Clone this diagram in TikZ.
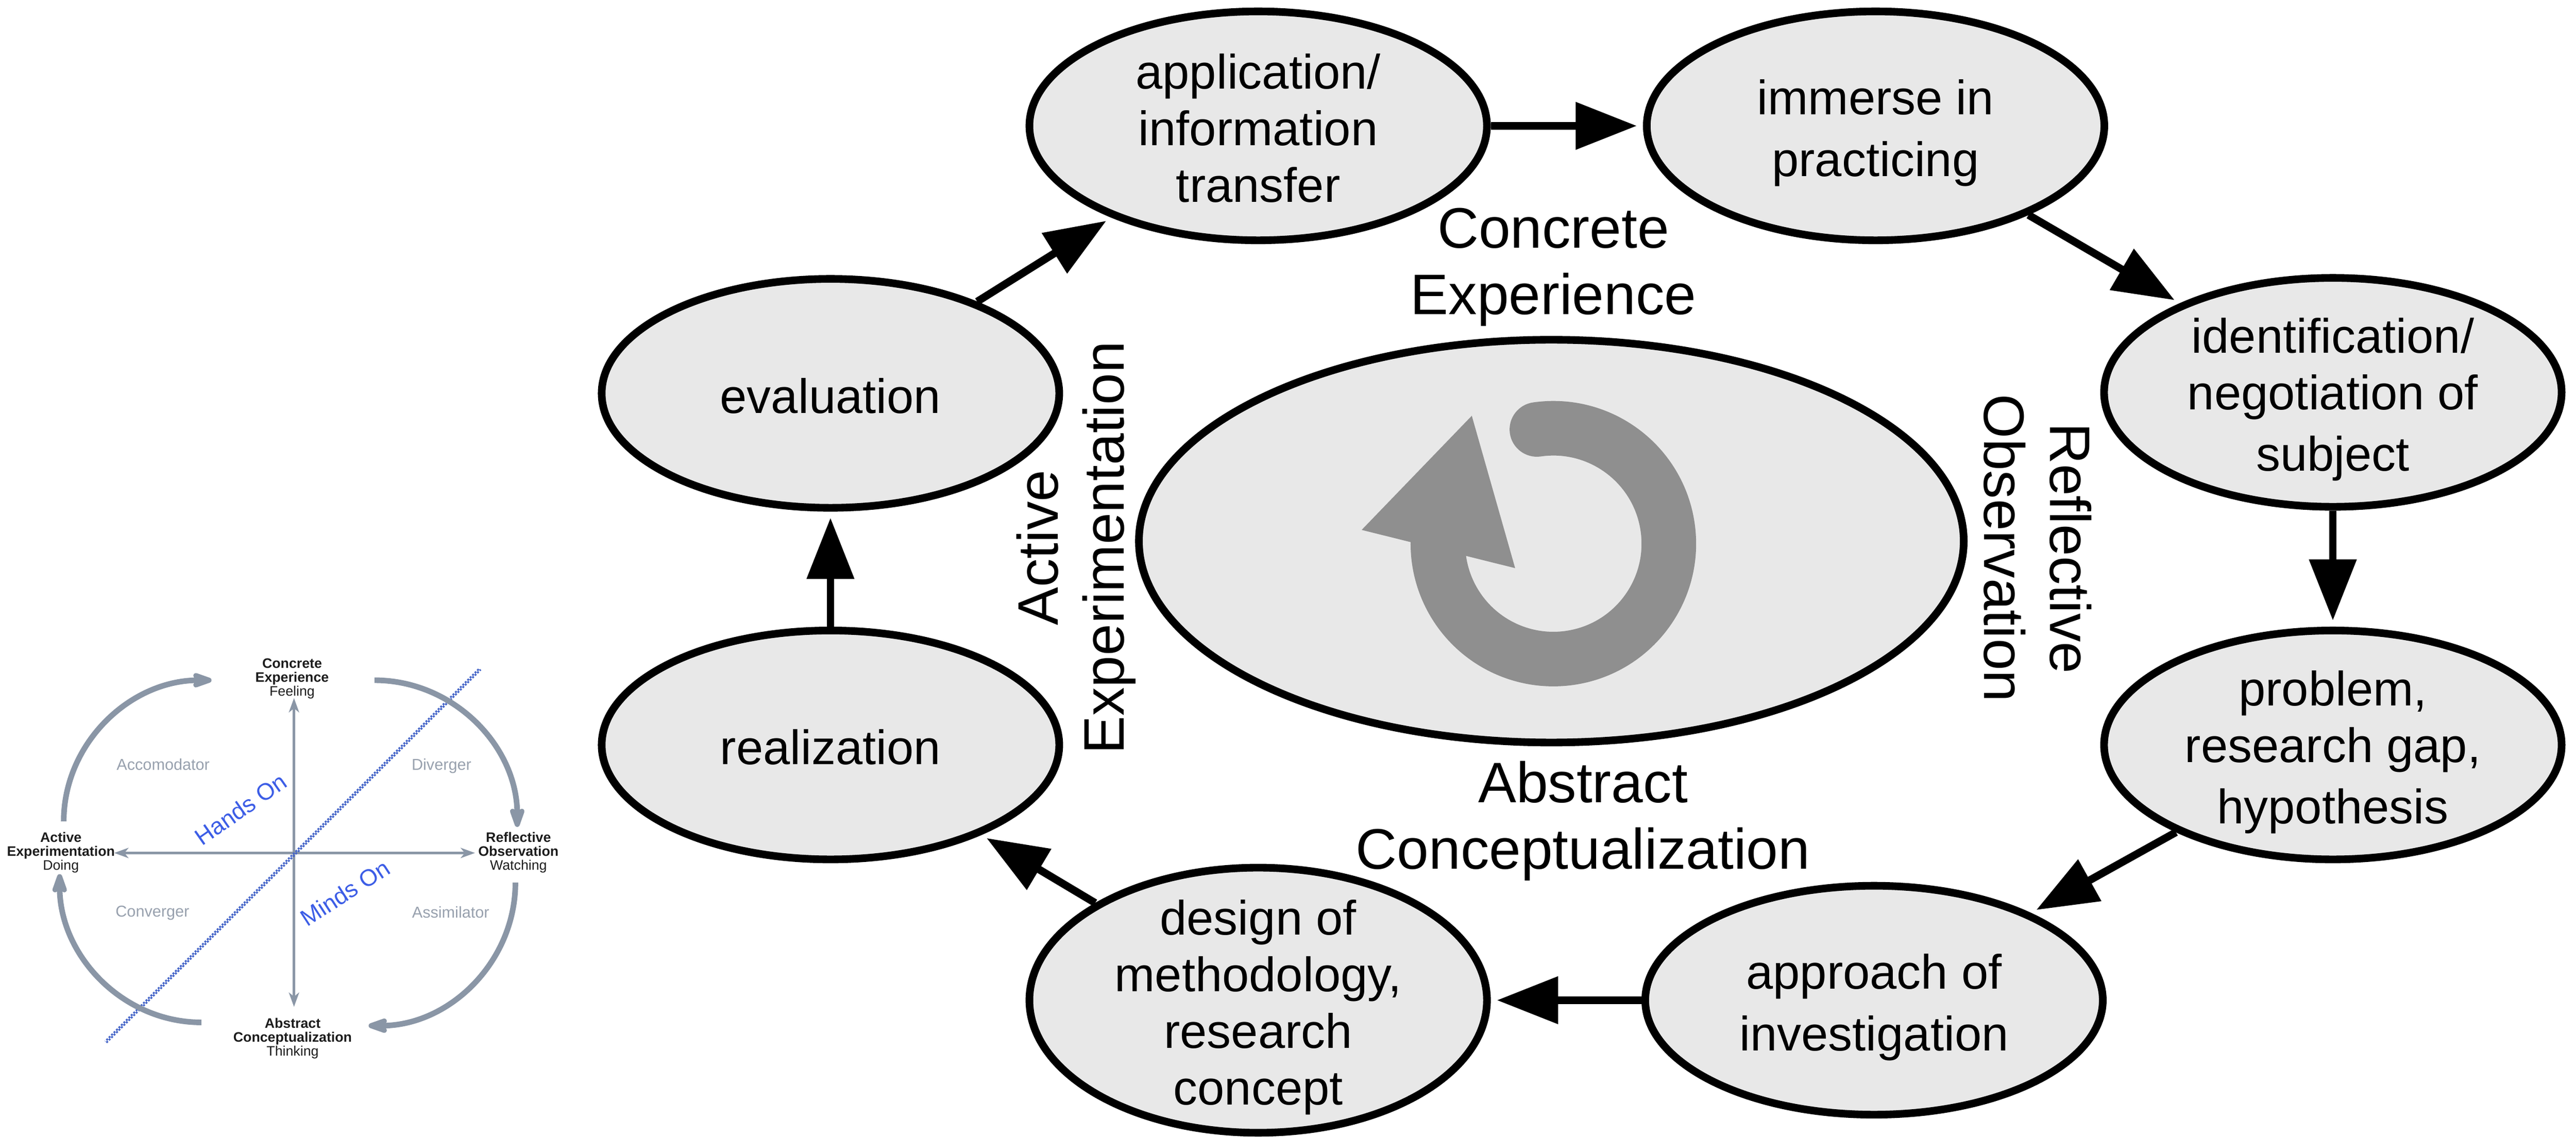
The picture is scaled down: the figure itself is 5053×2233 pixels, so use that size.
\documentclass[tikz,border=0pt]{standalone}
\usepackage{fontspec}
\setmainfont{Liberation Sans}
\usetikzlibrary{shapes.geometric,arrows.meta}
\definecolor{nodefill}{HTML}{E8E8E8}
\definecolor{ringgray}{HTML}{8F8F8F}
\definecolor{kolbline}{HTML}{8A96A6}
\definecolor{kolbtext}{HTML}{98A1AE}
\definecolor{kolbblue}{HTML}{3C5DE6}
\definecolor{kolbdiag}{HTML}{4565C8}
\definecolor{kolbdark}{HTML}{1C1C1C}
\newcommand\stagestrut{\rule[-0.2cm]{0pt}{1.17cm}}
\begin{document}
\begin{tikzpicture}[x=0.01cm, y=-0.01cm,
  stage/.style={ellipse, draw=black, line width=0.15cm, fill=nodefill,
    minimum width=8.97cm, minimum height=4.49cm, inner sep=0pt},
  stagetext/.style={align=center, inner sep=0pt,
    font=\fontsize{27pt}{31.6pt}\selectfont},
  flow/.style={line width=0.15cm, -{Triangle[length=1.2cm,width=0.9cm]}, shorten >=0.12cm},
  biglabel/.style={align=center, inner sep=0pt, font=\fontsize{31.87pt}{36.99pt}\selectfont},
  kaxis/.style={draw=kolbline, line width=0.047cm, -{Stealth[length=0.28cm,width=0.2cm,inset=0.08cm]}},
  kcurve/.style={draw=kolbline, line width=0.11cm, -{Stealth[length=0.55cm,width=0.38cm,inset=0.15cm,round]}},
  kdiag/.style={draw=kolbdiag, line width=0.036cm, dash pattern=on 0.038cm off 0.03cm},
  klabel/.style={align=center, inner sep=0pt, text=kolbdark, font=\fontsize{7.68pt}{7.82pt}\selectfont},
  kquad/.style={inner sep=0pt, text=kolbtext, font=\fontsize{8.8pt}{10pt}\selectfont},
  kblue/.style={inner sep=0pt, text=kolbblue, font=\fontsize{13.1pt}{15pt}\selectfont}
]
\fill[white] (0,0) rectangle (5053,2233);
\useasboundingbox (0,0) rectangle (5053,2233);

% ---------- small Kolb diagram ----------
\coordinate (kc) at (576.7,1674);
\coordinate (kn) at (576.7,1370);
\coordinate (ks) at (576.7,1976);
\coordinate (kw) at (224,1674);
\coordinate (ke) at (931.7,1674);
\draw[kaxis] (kc) -- (kn);
\draw[kaxis] (kc) -- (ks);
\draw[kaxis] (kc) -- (kw);
\draw[kaxis] (kc) -- (ke);

\coordinate (kd1) at (207.6,2045);
\coordinate (kd2) at (941.7,1313);
\draw[kdiag] ([shift={(1.2,1.2)}]kd1) -- ([shift={(1.2,1.2)}]kd2);
\draw[kdiag, dash phase=0.034cm] ([shift={(-1.2,-1.2)}]kd1) -- ([shift={(-1.2,-1.2)}]kd2);

\coordinate (ka1) at (125,1612);
\draw[kcurve] (ka1) arc[start angle=180, end angle=270, x radius=290, y radius=277];
\coordinate (ka2) at (734.6,1335);
\draw[kcurve] (ka2) arc[start angle=270, end angle=360, x radius=280, y radius=288];
\coordinate (ka3) at (1011,1732);
\draw[kcurve] (ka3) arc[start angle=0, end angle=90, x radius=288, y radius=281];
\coordinate (ka4) at (395,2006.5);
\draw[kcurve] (ka4) arc[start angle=90, end angle=180, x radius=278, y radius=291];

\node[klabel] (kce) at (573,1332) {\textbf{Concrete}\\\textbf{Experience}\\Feeling};
\node[klabel] (kae) at (119.5,1673) {\textbf{Active}\\\textbf{Experimentation}\\Doing};
\node[klabel] (kro) at (1017,1673) {\textbf{Reflective}\\\textbf{Observation}\\Watching};
\node[klabel] (kac) at (574,2038) {\textbf{Abstract}\\\textbf{Conceptualization}\\Thinking};
\node[kquad] (kq1) at (320,1500) {Accomodator};
\node[kquad] (kq2) at (866,1503) {Diverger};
\node[kquad] (kq3) at (299,1792) {Converger};
\node[kquad] (kq4) at (884,1790) {Assimilator};
\node[kblue, rotate=35] (kh) at (472,1588) {Hands On};
\node[kblue, rotate=33] (km) at (677,1752) {Minds On};

% ---------- central ellipse with cycle icon ----------
\node[stage, minimum width=16.17cm, minimum height=7.90cm] (core) at (3043,1062) {};
\coordinate (rc) at (3047,1067);
\draw[ringgray, line width=1.07cm, line cap=round]
  ([shift={(-98.2:226.5)}]rc) arc[start angle=-98.2, end angle=180, radius=226.5];
\fill[ringgray] (2887,816) -- (2671,1040) -- (2972,1115) -- cycle;

% ---------- stages ----------
\node[stage] (app) at (2468,247) {};
\node[stage] (imm) at (3679,247) {};
\node[stage] (idn) at (4576,770) {};
\node[stage] (prb) at (4576,1462) {};
\node[stage] (apr) at (3676,1963) {};
\node[stage, minimum height=5.2cm] (dsg) at (2468,1963) {};
\node[stage] (rea) at (1629,1462) {};
\node[stage] (evl) at (1629,772) {};

\node[stagetext] (appT) at (app.center) {\stagestrut application/\\information\\transfer\stagestrut};
\node[stagetext] (immT) at (imm.center) {\stagestrut immerse in\\practicing\stagestrut};
\node[stagetext] (idnT) at (idn.center) {\stagestrut identification/\\negotiation of\\subject\stagestrut};
\node[stagetext] (prbT) at (prb.center) {\stagestrut problem,\\research gap,\\hypothesis\stagestrut};
\node[stagetext] (aprT) at (apr.center) {\stagestrut approach of\\investigation\stagestrut};
\node[stagetext] (dsgT) at (dsg.center) {\stagestrut design of\\methodology,\\research\\concept\stagestrut};
\node[stagetext] (reaT) at (rea.center) {\stagestrut realization\stagestrut};
\node[stagetext] (evlT) at (evl.center) {\stagestrut evaluation\stagestrut};

\draw[flow] (app) -- (imm);
\draw[flow] (imm) -- (idn);
\draw[flow] (idn) -- (prb);
\draw[flow] (prb) -- (apr);
\draw[flow] (apr) -- (dsg);
\draw[flow] (dsg) -- (rea);
\draw[flow] (rea) -- (evl);
\draw[flow] (evl) -- (app);

% ---------- phase labels ----------
\node[biglabel] (lce) at (3047,524) {Concrete\\Experience};
\node[biglabel] (lac) at (3105,1611) {Abstract\\Conceptualization};
\node[biglabel, rotate=90] (lae) at (2111,1075) {Active\\Experimentation};
\node[biglabel, rotate=-90] (lro) at (3997,1076) {Reflective\\Observation};
\end{tikzpicture}
\end{document}
